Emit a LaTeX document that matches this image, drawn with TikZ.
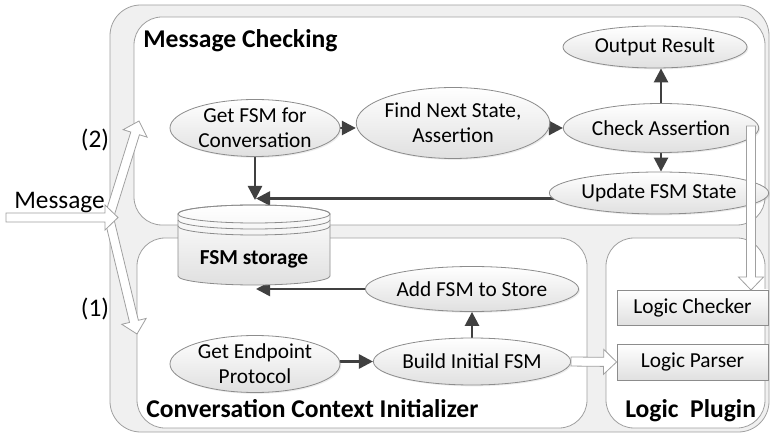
\documentclass[tikz,border=0pt]{standalone}
\usepackage{fontspec}
\setmainfont{Carlito}
\usetikzlibrary{shapes.geometric,arrows.meta,calc,shadows}
\definecolor{ellborder}{HTML}{8C8C8C}
\definecolor{ellfill}{HTML}{E0E0E0}
\definecolor{boxborder}{HTML}{A0A0A0}
\definecolor{outerfill}{HTML}{F0F0F0}
\definecolor{arrowdark}{HTML}{404040}
\definecolor{hollowborder}{HTML}{A0A0A0}
\pgfdeclarelayer{bg}
\pgfdeclarelayer{conn}
\pgfsetlayers{bg,conn,main}
\newcommand{\blockarr}[2]{%
  \coordinate (hb) at ($(#2)!9.75pt!(#1)$);
  \draw[hollow] ($(#1)!3.4pt!90:(#2)$) -- ($(hb)!3.4pt!90:(#2)$) -- ($(hb)!9.4pt!90:(#2)$) -- (#2)
     -- ($(hb)!9.4pt!-90:(#2)$) -- ($(hb)!3.4pt!-90:(#2)$) -- ($(#1)!3.4pt!-90:(#2)$) -- cycle;
}
\begin{document}
\begin{tikzpicture}[x=0.75pt,y=-0.75pt,
  sz/.style 2 args={minimum width=#1*0.75pt, minimum height=#2*0.75pt},
  proc/.style={ellipse, draw=ellborder, line width=0.6pt, top color=white, bottom color=ellfill,
    inner sep=0pt, align=center, font=\fontsize{16}{19}\selectfont,
    drop shadow={opacity=0.15, shadow xshift=1pt, shadow yshift=-1pt}},
  plug/.style={rectangle, draw=ellborder, line width=0.6pt, top color=white, bottom color=ellfill,
    inner sep=0pt, font=\fontsize{16}{19}\selectfont,
    drop shadow={opacity=0.15, shadow xshift=1pt, shadow yshift=-1pt}},
  area/.style={draw=boxborder, line width=0.6pt, fill=white, rounded corners=21pt},
  title/.style={font=\bfseries\fontsize{19.2}{23}\selectfont, anchor=base west, inner sep=0pt},
  lbl/.style={font=\fontsize{19}{23}\selectfont, inner sep=0pt},
  flow/.style={draw=arrowdark, line width=1.9pt, -{Triangle[length=10.5pt,width=10.5pt]}},
  hollow/.style={draw=hollowborder, line width=0.6pt, fill=white, line join=miter}
]
\useasboundingbox (0,0) rectangle (770,434);

% containers
\begin{pgfonlayer}{bg}
  \draw[draw=boxborder, line width=0.6pt, fill=outerfill, rounded corners=23pt] (110,5) rectangle (769,432);
  \draw[area] (134,17) rectangle (765,225);
  \draw[area] (137,238) rectangle (587,428);
  \draw[area] (606,238) rectangle (765,428);
\end{pgfonlayer}

\node[title] (tmc) at (143,48) {Message Checking};
\node[title] (tcci) at (146,417) {Conversation Context Initializer};
\node[title] (tlp) at (625,417) {Logic\ \ Plugin};

% message checking
\node[proc, sz={170}{57}] (getfsm) at (255,128) {Get FSM for\\Conversation};
\node[proc, sz={180}{71}] (findnext) at (453,123) {Find Next State,\\Assertion};
\node[proc, sz={187}{49}] (ca) at (661,128) {Check Assertion};
\node[proc, sz={184}{42}] (out) at (655,47) {Output Result};
\node[proc, sz={181}{42}] (upd) at (659,193) {Update FSM State};

% FSM storage cylinder
\path[top color=white, bottom color=ellfill, draw=ellborder, line width=0.6pt]
  (178,214) -- (178,276) arc[start angle=180, end angle=360, x radius=57pt, y radius=6.75pt]
  -- (330,214) arc[start angle=0, end angle=180, x radius=57pt, y radius=6.75pt] -- cycle;
\draw[ellborder, line width=0.6pt] (254,214) ellipse[x radius=57pt, y radius=6.75pt];
\draw[ellborder, line width=0.6pt] (178,220) arc[start angle=180, end angle=360, x radius=57pt, y radius=6.75pt];
\draw[ellborder, line width=0.6pt] (178,226) arc[start angle=180, end angle=360, x radius=57pt, y radius=6.75pt];
\node[font=\bfseries\fontsize{16}{19}\selectfont, inner sep=0pt] (store) at (254,259) {FSM storage};
\coordinate (cyltop) at (256,200);
\coordinate (cylbot) at (256,289);

% conversation context initializer
\node[proc, sz={171}{45}] (add) at (472,289) {Add FSM to Store};
\node[proc, sz={170}{47}] (bif) at (472,361.5) {Build Initial FSM};
\node[proc, sz={170}{53}] (gep) at (255,364) {Get Endpoint\\Protocol};

% logic plugin
\node[plug, sz={151}{35}] (checker) at (692.5,307.5) {Logic Checker};
\node[plug, sz={151}{36}] (parser) at (692.5,362) {Logic Parser};

% labels
\node[lbl, anchor=base west] (msg) at (14,209) {Message};
\node[lbl] (two) at (95,140) {(2)};
\node[lbl] (one) at (95,309) {(1)};

% solid flows
\begin{pgfonlayer}{conn}
  \draw[flow] (getfsm.east |- 0,128) -- (findnext.west |- 0,128);
  \draw[flow] (findnext.east |- ca.west) -- (ca.west);
  \draw[flow] (ca.north) -- (ca.north |- out.south);
  \draw[flow] (ca.south) -- (ca.south |- upd.north);
  \draw[flow] (getfsm.south) -- (getfsm.south |- cyltop);
  \draw[flow] (upd.center |- 0,198.5) -- (cyltop |- 0,198.5);
  \draw[flow] (add.center) -- (cylbot);
  \draw[flow] (gep.east |- bif.west) -- (bif.west);
  \draw[flow] (bif.north) -- (add.south);
\end{pgfonlayer}

% hollow block arrows
\coordinate (a1s) at (109,218);
\coordinate (a1t) at (137,334);
\coordinate (a2s) at (109,217);
\coordinate (a2t) at (139,121);
\coordinate (ms) at (6,217.5);
\coordinate (mt) at (118,217.5);
\coordinate (cas) at (751,126);
\coordinate (cat) at (751,290);
\blockarr{a1s}{a1t}
\blockarr{a2s}{a2t}
\blockarr{ms}{mt}
\blockarr{cas}{cat}
\blockarr{bif.east}{parser.west}
\end{tikzpicture}
\end{document}
